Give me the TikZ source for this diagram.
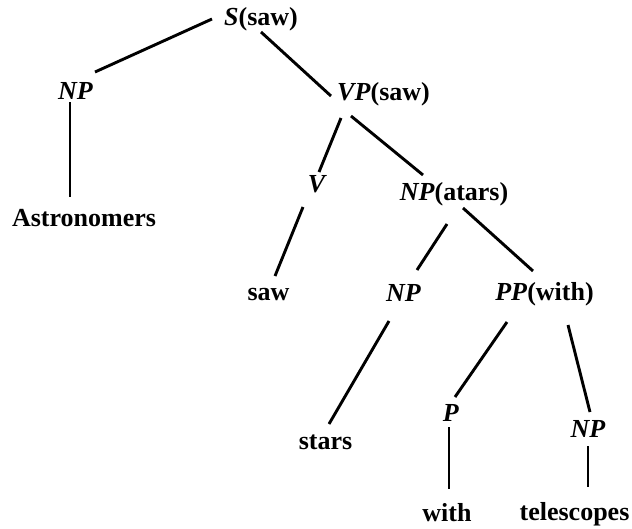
\documentclass[tikz,border=0pt]{standalone}
\usepackage{fontspec}
\setmainfont{Liberation Serif}
\begin{document}
\begin{tikzpicture}[x=1pt,y=-1pt,
  lbl/.style={anchor=base,inner sep=0pt,font=\fontsize{26}{30}\selectfont\bfseries},
  edge/.style={line width=2.9pt,black}]
\useasboundingbox (0,0) rectangle (632,528);
\node[lbl] (S) at (261,25) {\textit{S}(saw)};
\node[lbl] (NPl) at (75.5,99) {\textit{NP}};
\node[lbl] (Astr) at (84,226) {Astronomers};
\node[lbl] (VP) at (383.5,100) {\textit{VP}(saw)};
\node[lbl] (V) at (317.5,192) {\textit{V}};
\node[lbl] (NPa) at (454,200) {\textit{NP}(atars)};
\node[lbl] (saw) at (268.5,300) {saw};
\node[lbl] (NPm) at (403.5,301) {\textit{NP}};
\node[lbl] (PP) at (544.5,300) {\textit{PP}(with)};
\node[lbl] (stars) at (325.5,449) {stars};
\node[lbl] (P) at (451,421) {\textit{P}};
\node[lbl] (NPr) at (588,437) {\textit{NP}};
\node[lbl] (with) at (447,521) {with};
\node[lbl] (tel) at (574.5,520) {telescopes};
\draw[edge] ([shift={(-49,-6)}]S.base) -- ([shift={(19.5,-27)}]NPl.base);
\draw[edge] ([shift={(0,7)}]S.base) -- ([shift={(-52.5,-4)}]VP.base);
\draw[edge] ([shift={(-5.5,3)}]NPl.base) -- ([shift={(-14,-29)}]Astr.base);
\draw[edge] ([shift={(-42.5,18)}]VP.base) -- ([shift={(1.5,-20)}]V.base);
\draw[edge] ([shift={(-32.5,16)}]VP.base) -- ([shift={(-31,-25)}]NPa.base);
\draw[edge] ([shift={(-14.5,15)}]V.base) -- ([shift={(6.5,-24)}]saw.base);
\draw[edge] ([shift={(-7,24)}]NPa.base) -- ([shift={(13.5,-31)}]NPm.base);
\draw[edge] ([shift={(9,8)}]NPa.base) -- ([shift={(-11.5,-29)}]PP.base);
\draw[edge] ([shift={(-14.5,20)}]NPm.base) -- ([shift={(3.5,-25)}]stars.base);
\draw[edge] ([shift={(-37.5,22)}]PP.base) -- ([shift={(4,-24)}]P.base);
\draw[edge] ([shift={(23.5,25)}]PP.base) -- ([shift={(2,-25)}]NPr.base);
\draw[edge] ([shift={(-2,6)}]P.base) -- ([shift={(2,-32)}]with.base);
\draw[edge] ([shift={(0,9)}]NPr.base) -- ([shift={(13.5,-33)}]tel.base);
\end{tikzpicture}
\end{document}
